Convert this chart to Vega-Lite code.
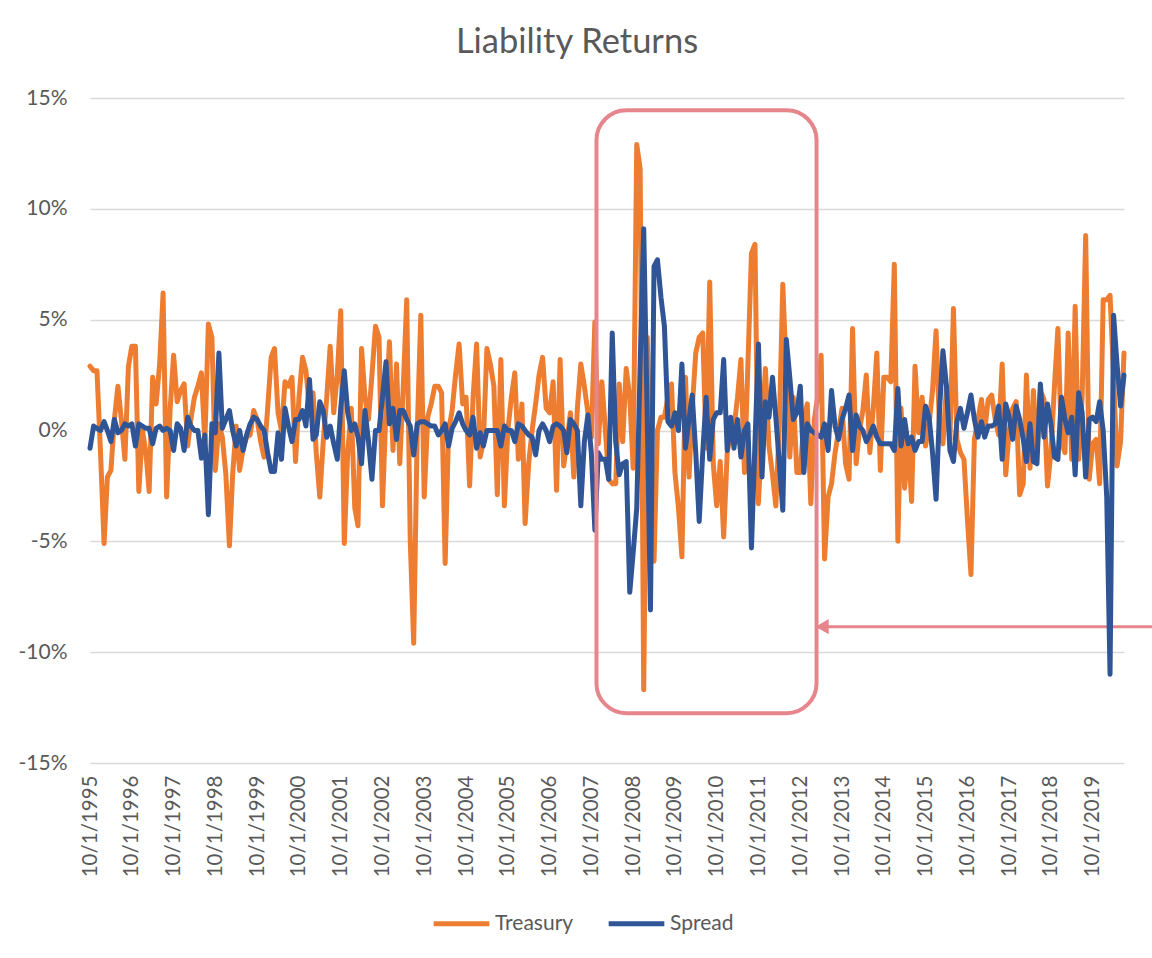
{
  "$schema": "https://vega.github.io/schema/vega-lite/v6.json",
  "width": 1034,
  "height": 665,
  "autosize": {"type": "none"},
  "padding": {"left": 90, "top": 98, "right": 28, "bottom": 195},
  "background": "white",
  "config": {"view": {"stroke": null}, "font": "Lato"},
  "title": {"text": "Liability Returns", "fontSize": 34.5, "font": "Lato", "fontWeight": "normal", "color": "#595959", "offset": 27, "anchor": "middle", "dx": -30},
  "datasets": {
    "r": [
      {"d":"1995-10-01","t":2.9,"s":-0.8},{"d":"1995-11-01","t":2.7,"s":0.2},{"d":"1995-12-01","t":2.7,"s":0.1},
      {"d":"1996-01-01","t":-1.0,"s":0.0},{"d":"1996-02-01","t":-5.1,"s":0.4},{"d":"1996-03-01","t":-2.1,"s":0.0},{"d":"1996-04-01","t":-1.8,"s":-0.5},{"d":"1996-05-01","t":0.5,"s":0.5},{"d":"1996-06-01","t":2.0,"s":-0.1},{"d":"1996-07-01","t":0.5,"s":0.0},{"d":"1996-08-01","t":-1.3,"s":0.3},{"d":"1996-09-01","t":2.9,"s":0.2},{"d":"1996-10-01","t":3.8,"s":0.3},{"d":"1996-11-01","t":3.8,"s":-0.7},{"d":"1996-12-01","t":-2.75,"s":0.3},
      {"d":"1997-01-01","t":0.0,"s":0.2},{"d":"1997-02-01","t":-1.0,"s":0.1},{"d":"1997-03-01","t":-2.75,"s":0.1},{"d":"1997-04-01","t":2.4,"s":-0.6},{"d":"1997-05-01","t":1.2,"s":0.1},{"d":"1997-06-01","t":3.0,"s":0.2},{"d":"1997-07-01","t":6.2,"s":0.0},{"d":"1997-08-01","t":-3.0,"s":0.1},{"d":"1997-09-01","t":1.0,"s":0.0},{"d":"1997-10-01","t":3.4,"s":-0.9},{"d":"1997-11-01","t":1.3,"s":0.3},{"d":"1997-12-01","t":1.8,"s":0.1},
      {"d":"1998-01-01","t":2.1,"s":-0.9},{"d":"1998-02-01","t":-0.7,"s":0.6},{"d":"1998-03-01","t":0.5,"s":0.2},{"d":"1998-04-01","t":1.5,"s":0.0},{"d":"1998-05-01","t":2.0,"s":0.0},{"d":"1998-06-01","t":2.6,"s":-1.25},{"d":"1998-07-01","t":-0.5,"s":-0.2},{"d":"1998-08-01","t":4.8,"s":-3.8},{"d":"1998-09-01","t":4.2,"s":0.3},{"d":"1998-10-01","t":-1.8,"s":-0.1},{"d":"1998-11-01","t":0.3,"s":3.5},{"d":"1998-12-01","t":-0.3,"s":0.1},
      {"d":"1999-01-01","t":-2.0,"s":0.5},{"d":"1999-02-01","t":-5.2,"s":0.9},{"d":"1999-03-01","t":-2.0,"s":0.0},{"d":"1999-04-01","t":0.2,"s":-0.7},{"d":"1999-05-01","t":-1.8,"s":0.0},{"d":"1999-06-01","t":-0.8,"s":-0.9},{"d":"1999-07-01","t":-0.3,"s":-0.2},{"d":"1999-08-01","t":-0.2,"s":0.3},{"d":"1999-09-01","t":0.9,"s":0.6},{"d":"1999-10-01","t":0.5,"s":0.5},{"d":"1999-11-01","t":-0.5,"s":0.2},{"d":"1999-12-01","t":-1.2,"s":0.0},
      {"d":"2000-01-01","t":1.0,"s":-1.0},{"d":"2000-02-01","t":3.3,"s":-1.85},{"d":"2000-03-01","t":3.7,"s":-1.85},{"d":"2000-04-01","t":0.8,"s":-0.1},{"d":"2000-05-01","t":0.0,"s":-1.3},{"d":"2000-06-01","t":2.2,"s":1.0},{"d":"2000-07-01","t":2.0,"s":0.2},{"d":"2000-08-01","t":2.4,"s":-0.5},{"d":"2000-09-01","t":-1.4,"s":0.5},{"d":"2000-10-01","t":1.5,"s":0.5},{"d":"2000-11-01","t":3.3,"s":0.9},{"d":"2000-12-01","t":2.7,"s":0.2},
      {"d":"2001-01-01","t":1.0,"s":2.3},{"d":"2001-02-01","t":1.7,"s":-0.4},{"d":"2001-03-01","t":-1.0,"s":-0.2},{"d":"2001-04-01","t":-3.0,"s":1.3},{"d":"2001-05-01","t":-0.5,"s":0.9},{"d":"2001-06-01","t":1.5,"s":-0.3},{"d":"2001-07-01","t":3.8,"s":0.2},{"d":"2001-08-01","t":0.8,"s":-0.6},{"d":"2001-09-01","t":2.5,"s":-1.3},{"d":"2001-10-01","t":5.4,"s":1.0},{"d":"2001-11-01","t":-5.1,"s":2.7},{"d":"2001-12-01","t":-1.0,"s":0.8},
      {"d":"2002-01-01","t":1.0,"s":0.0},{"d":"2002-02-01","t":-3.5,"s":0.3},{"d":"2002-03-01","t":-4.3,"s":-0.3},{"d":"2002-04-01","t":3.7,"s":-1.5},{"d":"2002-05-01","t":1.5,"s":0.9},{"d":"2002-06-01","t":0.5,"s":-0.5},{"d":"2002-07-01","t":2.5,"s":-2.2},{"d":"2002-08-01","t":4.7,"s":0.0},{"d":"2002-09-01","t":4.2,"s":0.0},{"d":"2002-10-01","t":-3.4,"s":1.5},{"d":"2002-11-01","t":1.0,"s":3.1},{"d":"2002-12-01","t":4.0,"s":0.3},
      {"d":"2003-01-01","t":-0.9,"s":1.0},{"d":"2003-02-01","t":3.0,"s":-0.4},{"d":"2003-03-01","t":-1.5,"s":0.9},{"d":"2003-04-01","t":2.0,"s":0.9},{"d":"2003-05-01","t":5.9,"s":0.5},{"d":"2003-06-01","t":-5.0,"s":0.2},{"d":"2003-07-01","t":-9.6,"s":-1.1},{"d":"2003-08-01","t":0.0,"s":0.3},{"d":"2003-09-01","t":5.2,"s":0.4},{"d":"2003-10-01","t":-3.0,"s":0.4},{"d":"2003-11-01","t":0.6,"s":0.3},{"d":"2003-12-01","t":1.2,"s":0.2},
      {"d":"2004-01-01","t":2.0,"s":0.2},{"d":"2004-02-01","t":2.0,"s":-0.2},{"d":"2004-03-01","t":1.7,"s":0.0},{"d":"2004-04-01","t":-6.0,"s":0.3},{"d":"2004-05-01","t":0.0,"s":-0.7},{"d":"2004-06-01","t":0.9,"s":0.1},{"d":"2004-07-01","t":2.5,"s":0.4},{"d":"2004-08-01","t":3.9,"s":0.8},{"d":"2004-09-01","t":1.2,"s":0.3},{"d":"2004-10-01","t":1.5,"s":0.0},{"d":"2004-11-01","t":-2.5,"s":-0.2},{"d":"2004-12-01","t":1.5,"s":0.6},
      {"d":"2005-01-01","t":3.9,"s":-0.8},{"d":"2005-02-01","t":-1.2,"s":-0.1},{"d":"2005-03-01","t":-0.5,"s":-0.7},{"d":"2005-04-01","t":3.7,"s":0.0},{"d":"2005-05-01","t":3.0,"s":0.0},{"d":"2005-06-01","t":2.0,"s":0.0},{"d":"2005-07-01","t":-2.9,"s":0.0},{"d":"2005-08-01","t":3.2,"s":-0.7},{"d":"2005-09-01","t":-3.4,"s":0.2},{"d":"2005-10-01","t":0.0,"s":0.0},{"d":"2005-11-01","t":1.5,"s":0.0},{"d":"2005-12-01","t":2.6,"s":-0.5},
      {"d":"2006-01-01","t":-1.3,"s":0.3},{"d":"2006-02-01","t":1.2,"s":0.2},{"d":"2006-03-01","t":-4.2,"s":0.0},{"d":"2006-04-01","t":-1.5,"s":-0.2},{"d":"2006-05-01","t":0.0,"s":-0.3},{"d":"2006-06-01","t":1.2,"s":-1.1},{"d":"2006-07-01","t":2.5,"s":0.0},{"d":"2006-08-01","t":3.3,"s":0.3},{"d":"2006-09-01","t":1.0,"s":0.0},{"d":"2006-10-01","t":0.8,"s":-0.5},{"d":"2006-11-01","t":2.2,"s":0.2},{"d":"2006-12-01","t":-2.7,"s":0.3},
      {"d":"2007-01-01","t":3.2,"s":0.2},{"d":"2007-02-01","t":-1.6,"s":0.0},{"d":"2007-03-01","t":-0.5,"s":-1.0},{"d":"2007-04-01","t":0.8,"s":0.5},{"d":"2007-05-01","t":-2.1,"s":0.3},{"d":"2007-06-01","t":1.0,"s":0.0},{"d":"2007-07-01","t":3.0,"s":-3.4},{"d":"2007-08-01","t":2.0,"s":-0.5},{"d":"2007-09-01","t":0.8,"s":0.7},{"d":"2007-10-01","t":-0.3,"s":-1.0},{"d":"2007-11-01","t":4.9,"s":-4.5},{"d":"2007-12-01","t":-0.6,"s":-1.0},
      {"d":"2008-01-01","t":2.2,"s":-1.3},{"d":"2008-02-01","t":0.0,"s":-1.3},{"d":"2008-03-01","t":-2.2,"s":-2.2},{"d":"2008-04-01","t":-2.4,"s":4.4},{"d":"2008-05-01","t":-2.4,"s":-0.5},{"d":"2008-06-01","t":2.1,"s":-2.0},{"d":"2008-07-01","t":-0.5,"s":-1.5},{"d":"2008-08-01","t":2.8,"s":-1.4},{"d":"2008-09-01","t":1.5,"s":-7.3},{"d":"2008-10-01","t":-1.7,"s":-5.5},{"d":"2008-11-01","t":12.9,"s":-3.5},{"d":"2008-12-01","t":11.8,"s":3.0},
      {"d":"2009-01-01","t":-11.7,"s":9.1},{"d":"2009-02-01","t":4.2,"s":0.5},{"d":"2009-03-01","t":-1.0,"s":-8.1},{"d":"2009-04-01","t":-5.9,"s":7.4},{"d":"2009-05-01","t":0.0,"s":7.7},{"d":"2009-06-01","t":0.6,"s":6.0},{"d":"2009-07-01","t":0.6,"s":4.7},{"d":"2009-08-01","t":1.5,"s":0.4},{"d":"2009-09-01","t":2.1,"s":0.2},{"d":"2009-10-01","t":-1.9,"s":0.8},{"d":"2009-11-01","t":-3.5,"s":0.0},{"d":"2009-12-01","t":-5.7,"s":3.0},
      {"d":"2010-01-01","t":2.4,"s":-0.8},{"d":"2010-02-01","t":-2.1,"s":0.5},{"d":"2010-03-01","t":1.0,"s":1.6},{"d":"2010-04-01","t":3.5,"s":-1.0},{"d":"2010-05-01","t":4.2,"s":-4.1},{"d":"2010-06-01","t":4.4,"s":-1.0},{"d":"2010-07-01","t":-0.8,"s":1.5},{"d":"2010-08-01","t":6.7,"s":-1.3},{"d":"2010-09-01","t":-1.5,"s":0.5},{"d":"2010-10-01","t":-3.4,"s":0.8},{"d":"2010-11-01","t":-1.4,"s":0.8},{"d":"2010-12-01","t":-4.8,"s":3.2},
      {"d":"2011-01-01","t":-1.0,"s":-0.9},{"d":"2011-02-01","t":0.0,"s":0.6},{"d":"2011-03-01","t":0.1,"s":-0.8},{"d":"2011-04-01","t":1.5,"s":0.5},{"d":"2011-05-01","t":3.2,"s":-1.2},{"d":"2011-06-01","t":-1.9,"s":0.0},{"d":"2011-07-01","t":3.0,"s":0.3},{"d":"2011-08-01","t":8.0,"s":-5.3},{"d":"2011-09-01","t":8.4,"s":-0.5},{"d":"2011-10-01","t":-3.3,"s":3.9},{"d":"2011-11-01","t":0.0,"s":-2.1},{"d":"2011-12-01","t":2.8,"s":1.3},
      {"d":"2012-01-01","t":-0.7,"s":0.6},{"d":"2012-02-01","t":-2.0,"s":2.4},{"d":"2012-03-01","t":-3.4,"s":0.6},{"d":"2012-04-01","t":0.3,"s":-1.5},{"d":"2012-05-01","t":6.6,"s":-3.6},{"d":"2012-06-01","t":2.5,"s":4.1},{"d":"2012-07-01","t":-1.2,"s":2.4},{"d":"2012-08-01","t":1.5,"s":0.5},{"d":"2012-09-01","t":-1.9,"s":0.8},{"d":"2012-10-01","t":-1.9,"s":2.0},{"d":"2012-11-01","t":0.5,"s":-1.9},{"d":"2012-12-01","t":1.2,"s":0.3},
      {"d":"2013-01-01","t":-3.3,"s":0.0},{"d":"2013-02-01","t":0.5,"s":-0.1},{"d":"2013-03-01","t":1.5,"s":-0.2},{"d":"2013-04-01","t":3.4,"s":-0.3},{"d":"2013-05-01","t":-5.8,"s":0.3},{"d":"2013-06-01","t":-3.0,"s":-0.9},{"d":"2013-07-01","t":-2.4,"s":1.8},{"d":"2013-08-01","t":-1.0,"s":0.2},{"d":"2013-09-01","t":0.0,"s":-0.4},{"d":"2013-10-01","t":1.0,"s":0.5},{"d":"2013-11-01","t":-1.5,"s":1.0},{"d":"2013-12-01","t":-2.2,"s":1.6},
      {"d":"2014-01-01","t":4.6,"s":-0.9},{"d":"2014-02-01","t":-1.5,"s":0.7},{"d":"2014-03-01","t":0.0,"s":0.2},{"d":"2014-04-01","t":0.9,"s":0.0},{"d":"2014-05-01","t":2.5,"s":-0.5},{"d":"2014-06-01","t":-1.0,"s":-0.2},{"d":"2014-07-01","t":1.0,"s":0.2},{"d":"2014-08-01","t":3.5,"s":-0.3},{"d":"2014-09-01","t":-1.8,"s":-0.6},{"d":"2014-10-01","t":2.4,"s":-0.6},{"d":"2014-11-01","t":2.4,"s":-0.6},{"d":"2014-12-01","t":2.2,"s":-0.6},
      {"d":"2015-01-01","t":7.5,"s":-0.9},{"d":"2015-02-01","t":-5.0,"s":1.9},{"d":"2015-03-01","t":1.0,"s":-0.7},{"d":"2015-04-01","t":-2.6,"s":0.5},{"d":"2015-05-01","t":-0.5,"s":-0.6},{"d":"2015-06-01","t":-3.2,"s":-0.3},{"d":"2015-07-01","t":2.9,"s":-0.9},{"d":"2015-08-01","t":-0.1,"s":-0.5},{"d":"2015-09-01","t":1.5,"s":-0.5},{"d":"2015-10-01","t":-0.7,"s":1.1},{"d":"2015-11-01","t":0.3,"s":0.6},{"d":"2015-12-01","t":1.8,"s":-1.0},
      {"d":"2016-01-01","t":4.5,"s":-3.1},{"d":"2016-02-01","t":0.0,"s":1.0},{"d":"2016-03-01","t":-0.6,"s":3.6},{"d":"2016-04-01","t":2.0,"s":2.0},{"d":"2016-05-01","t":-0.4,"s":-0.9},{"d":"2016-06-01","t":5.5,"s":-1.4},{"d":"2016-07-01","t":-0.4,"s":0.4},{"d":"2016-08-01","t":-1.0,"s":1.0},{"d":"2016-09-01","t":-1.3,"s":0.1},{"d":"2016-10-01","t":-4.0,"s":0.8},{"d":"2016-11-01","t":-6.5,"s":1.6},{"d":"2016-12-01","t":-0.4,"s":0.5},
      {"d":"2017-01-01","t":0.5,"s":-0.3},{"d":"2017-02-01","t":1.4,"s":0.4},{"d":"2017-03-01","t":0.0,"s":-0.3},{"d":"2017-04-01","t":1.4,"s":0.2},{"d":"2017-05-01","t":1.6,"s":0.2},{"d":"2017-06-01","t":0.5,"s":0.3},{"d":"2017-07-01","t":-0.2,"s":1.1},{"d":"2017-08-01","t":3.0,"s":-1.3},{"d":"2017-09-01","t":-2.0,"s":1.2},{"d":"2017-10-01","t":0.0,"s":0.6},{"d":"2017-11-01","t":1.0,"s":-0.4},{"d":"2017-12-01","t":1.3,"s":1.1},
      {"d":"2018-01-01","t":-2.9,"s":0.5},{"d":"2018-02-01","t":-2.4,"s":-0.4},{"d":"2018-03-01","t":2.5,"s":-1.4},{"d":"2018-04-01","t":-1.7,"s":0.3},{"d":"2018-05-01","t":1.8,"s":-1.4},{"d":"2018-06-01","t":-1.0,"s":-1.5},{"d":"2018-07-01","t":1.8,"s":2.1},{"d":"2018-08-01","t":1.4,"s":-0.3},{"d":"2018-09-01","t":-2.5,"s":1.2},{"d":"2018-10-01","t":-1.0,"s":0.3},{"d":"2018-11-01","t":2.0,"s":-1.2},{"d":"2018-12-01","t":4.6,"s":-1.3},
      {"d":"2019-01-01","t":-0.5,"s":1.5},{"d":"2019-02-01","t":-1.0,"s":0.5},{"d":"2019-03-01","t":4.4,"s":-0.1},{"d":"2019-04-01","t":-1.3,"s":0.6},{"d":"2019-05-01","t":5.6,"s":-2.0},{"d":"2019-06-01","t":-1.3,"s":1.7},{"d":"2019-07-01","t":1.5,"s":0.8},{"d":"2019-08-01","t":8.8,"s":-2.1},{"d":"2019-09-01","t":-2.2,"s":0.5},{"d":"2019-10-01","t":-0.6,"s":0.6},{"d":"2019-11-01","t":-0.4,"s":0.4},{"d":"2019-12-01","t":-2.4,"s":1.3},
      {"d":"2020-01-01","t":5.9,"s":0.0},{"d":"2020-02-01","t":5.9,"s":-3.0},{"d":"2020-03-01","t":6.1,"s":-11.0},{"d":"2020-04-01","t":2.5,"s":5.2},{"d":"2020-05-01","t":-1.6,"s":3.0},{"d":"2020-06-01","t":-0.5,"s":1.1},{"d":"2020-07-01","t":3.5,"s":2.5}
    ]
  },
  "layer": [
    {
      "data": {"values": [{"a": "2013-05-10", "b": "2021-05-01", "v": -8.85}]},
      "mark": {"type": "rule", "color": "#E7858C", "strokeWidth": 3},
      "encoding": {
        "x": {"field": "a", "type": "temporal", "title": null},
        "x2": {"field": "b"},
        "y": {"field": "v", "type": "quantitative", "title": null}
      }
    },
    {
      "data": {"values": [{"a": "2013-04-10", "v": -8.85}]},
      "mark": {"type": "point", "shape": "triangle-left", "filled": true, "color": "#E7858C", "size": 230, "opacity": 1},
      "encoding": {
        "x": {"field": "a", "type": "temporal", "title": null},
        "y": {"field": "v", "type": "quantitative", "title": null}
      }
    },
    {
      "data": {"name": "r"},
      "mark": {"type": "line", "strokeWidth": 5, "strokeJoin": "round", "strokeCap": "round"},
      "encoding": {
        "x": {
          "field": "d", "type": "temporal", "title": null,
          "scale": {"type": "utc", "domain": [{"year": 1995, "month": 10, "date": 1, "utc": true}, {"year": 2020, "month": 7, "date": 1, "utc": true}]},
          "axis": {
            "values": [
              {"year": 1995, "month": 10, "date": 1, "utc": true}, {"year": 1996, "month": 10, "date": 1, "utc": true}, {"year": 1997, "month": 10, "date": 1, "utc": true}, {"year": 1998, "month": 10, "date": 1, "utc": true}, {"year": 1999, "month": 10, "date": 1, "utc": true},
              {"year": 2000, "month": 10, "date": 1, "utc": true}, {"year": 2001, "month": 10, "date": 1, "utc": true}, {"year": 2002, "month": 10, "date": 1, "utc": true}, {"year": 2003, "month": 10, "date": 1, "utc": true}, {"year": 2004, "month": 10, "date": 1, "utc": true},
              {"year": 2005, "month": 10, "date": 1, "utc": true}, {"year": 2006, "month": 10, "date": 1, "utc": true}, {"year": 2007, "month": 10, "date": 1, "utc": true}, {"year": 2008, "month": 10, "date": 1, "utc": true}, {"year": 2009, "month": 10, "date": 1, "utc": true},
              {"year": 2010, "month": 10, "date": 1, "utc": true}, {"year": 2011, "month": 10, "date": 1, "utc": true}, {"year": 2012, "month": 10, "date": 1, "utc": true}, {"year": 2013, "month": 10, "date": 1, "utc": true}, {"year": 2014, "month": 10, "date": 1, "utc": true},
              {"year": 2015, "month": 10, "date": 1, "utc": true}, {"year": 2016, "month": 10, "date": 1, "utc": true}, {"year": 2017, "month": 10, "date": 1, "utc": true}, {"year": 2018, "month": 10, "date": 1, "utc": true}, {"year": 2019, "month": 10, "date": 1, "utc": true}
            ],
            "labelExpr": "utcFormat(datum.value, '%-m/%-d/%Y')",
            "labelAngle": -90,
            "labelFontSize": 20.5,
            "labelFont": "Lato",
            "labelColor": "#595959",
            "labelPadding": 12,
            "labelOverlap": false,
            "labelBound": false,
            "labelFlush": false,
            "grid": false,
            "ticks": false,
            "domain": false
          }
        },
        "y": {
          "field": "t", "type": "quantitative", "title": null,
          "scale": {"domain": [-15, 15], "nice": false, "zero": false},
          "axis": {
            "values": [-15, -10, -5, 0, 5, 10, 15],
            "labelExpr": "datum.value + '%'",
            "grid": true,
            "gridColor": "#D9D9D9",
            "gridWidth": 1.3,
            "domain": false,
            "ticks": false,
            "labelFontSize": 21,
            "labelFont": "Lato",
            "labelColor": "#595959",
            "labelPadding": 23
          }
        },
        "color": {
          "datum": "Treasury", "type": "nominal",
          "scale": {"domain": ["Treasury", "Spread"], "range": ["#ED7D31", "#2F5597"]},
          "legend": {
            "title": null,
            "orient": "none",
            "legendX": 341,
            "legendY": 795,
            "direction": "horizontal",
            "symbolType": "stroke",
            "symbolSize": 3100,
            "symbolStrokeWidth": 5,
            "labelFontSize": 21,
            "labelFont": "Lato",
            "labelColor": "#595959",
            "labelOffset": 3,
            "columnPadding": 24
          }
        }
      }
    },
    {
      "data": {"name": "r"},
      "mark": {"type": "line", "strokeWidth": 5, "strokeJoin": "round", "strokeCap": "round"},
      "encoding": {
        "x": {"field": "d", "type": "temporal", "title": null},
        "y": {"field": "s", "type": "quantitative", "title": null},
        "color": {"datum": "Spread", "type": "nominal"}
      }
    },
    {
      "data": {"values": [{"x1": "2007-11-15", "x2": "2013-02-20", "y1": 14.45, "y2": -12.75}]},
      "mark": {"type": "rect", "fill": null, "fillOpacity": 0, "stroke": "#E7858C", "strokeWidth": 4, "cornerRadius": 30},
      "encoding": {
        "x": {"field": "x1", "type": "temporal", "title": null},
        "x2": {"field": "x2"},
        "y": {"field": "y1", "type": "quantitative", "title": null},
        "y2": {"field": "y2"}
      }
    }
  ]
}
